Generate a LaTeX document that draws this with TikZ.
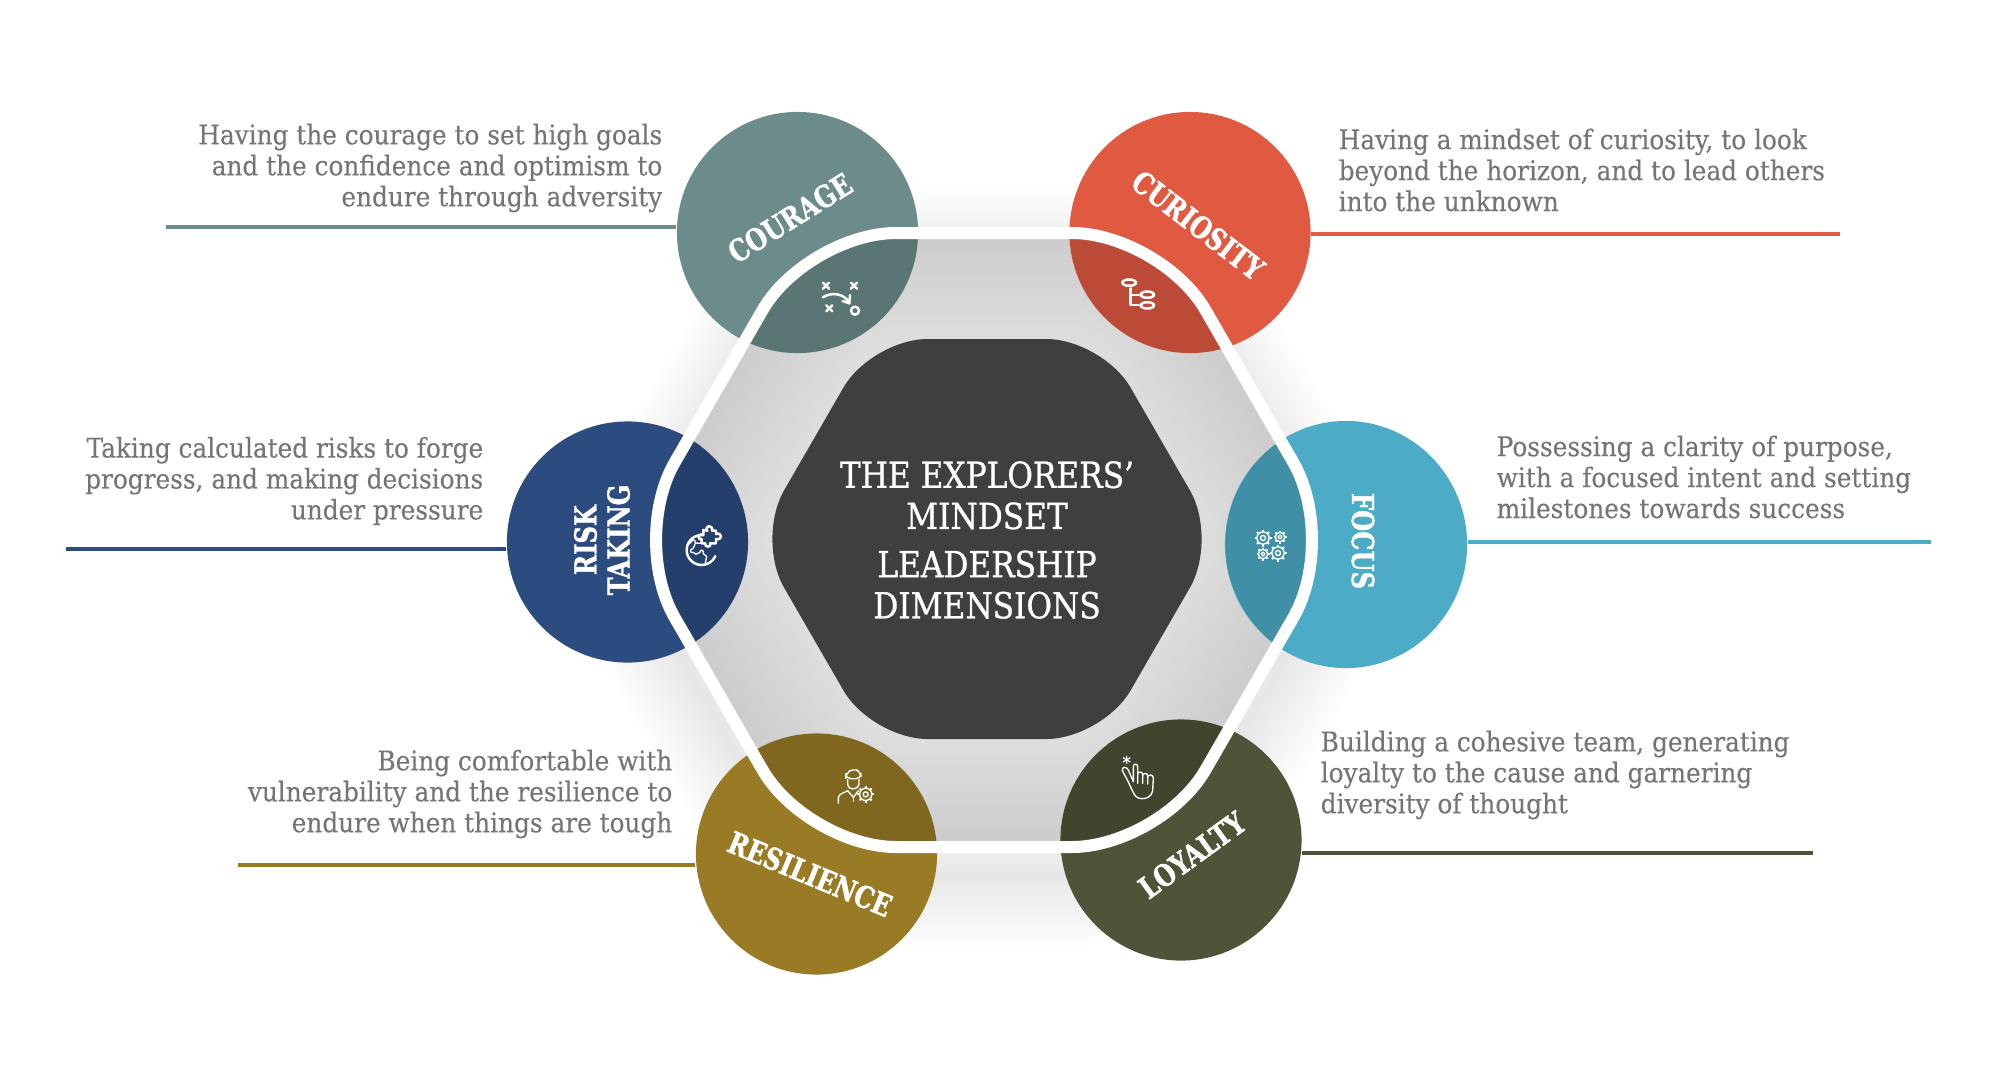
\documentclass[tikz,border=0pt]{standalone}
\usepackage{fontspec}
\usepackage{tikz}
\usetikzlibrary{shapes.geometric}

\newfontfamily\bodyfont[FakeStretch=0.915,FakeBold=0.25]{DejaVu Serif}
\newfontfamily\titlefont[FakeStretch=0.87,FakeBold=0.8]{DejaVu Serif}
\newfontfamily\labelfont[FakeStretch=0.8,FakeBold=1.2]{DejaVu Serif Bold}

\definecolor{couragecol}{HTML}{6B8C8B}
\definecolor{curiositycol}{HTML}{E05A42}
\definecolor{riskcol}{HTML}{2C4C80}
\definecolor{focuscol}{HTML}{4CABC6}
\definecolor{resiliencecol}{HTML}{997B25}
\definecolor{loyaltycol}{HTML}{4F5337}
\definecolor{bodygrey}{HTML}{757575}
\definecolor{coregrey}{HTML}{3F3F3F}
\definecolor{hexgrey}{HTML}{E0E0E0}

\def\outerhex{(984,233) -- (1161,233) -- (1338,540) -- (1161,847) -- (807,847) -- (630,540) -- (807,233) -- cycle}

\tikzset{
	dimcircle/.style={circle,minimum size=2.41cm,inner sep=0pt},
	dimlabel/.style={white,inner sep=0pt,align=center,font=\labelfont\fontsize{8.6}{9.4}\selectfont},
	bodyleft/.style={bodygrey,inner sep=0pt,anchor=west,align=left,font=\bodyfont\fontsize{7.7}{8.8}\selectfont},
	bodyright/.style={bodygrey,inner sep=0pt,anchor=east,align=right,font=\bodyfont\fontsize{7.7}{8.8}\selectfont},
	leader/.style={line width=0.04cm},
	iconline/.style={white,line width=0.38pt,line cap=round,line join=round},
	iconbold/.style={white,line width=0.7pt,line cap=round,line join=round},
	pics/gearicon/.style={code={
		\draw[iconline] (0,0) circle (#1*0.72);
		\draw[iconline] (0,0) circle (#1*0.3);
		\foreach \a in {0,45,...,315}
			\draw[iconline,line width=0.55pt,line cap=butt] (\a:#1*0.72) -- (\a:#1);
	}}
}

\begin{document}
\begin{tikzpicture}[x=0.01cm,y=-0.01cm]
	\useasboundingbox (0,0) rectangle (2000,1078);
	
	% soft shadow round the big hexagon
	\begin{scope}[yshift=-0.28cm,rounded corners=0.89cm]
		\foreach \w in {6,12,...,144}
			\draw[black,opacity=0.005,line width=\w*0.01cm] \outerhex;
	\end{scope}
	\fill[hexgrey,rounded corners=0.89cm] \outerhex;
	\begin{scope}
		\clip[rounded corners=0.89cm] \outerhex;
		\foreach \w in {12,24,...,240}
			\draw[black,opacity=0.0033,line width=\w*0.01cm,rounded corners=0.89cm] \outerhex;
	\end{scope}
	
	% leader lines
	\coordinate (courageend) at (166,227);
	\coordinate (curiosityend) at (1840,234);
	\coordinate (riskend) at (66,549);
	\coordinate (focusend) at (1931,542);
	\coordinate (resilienceend) at (238,865);
	\coordinate (loyaltyend) at (1813,853);
	
	% circles
	\node[dimcircle,fill=couragecol] (courage) at (797.5,232.5) {};
	\node[dimcircle,fill=curiositycol] (curiosity) at (1190,232.5) {};
	\node[dimcircle,fill=riskcol] (risk) at (627.5,542) {};
	\node[dimcircle,ellipse,fill=focuscol,minimum height=2.47cm,minimum width=2.42cm] (focus) at (1346,544.5) {};
	\node[dimcircle,fill=resiliencecol] (resilience) at (816.5,854) {};
	\node[dimcircle,fill=loyaltycol] (loyalty) at (1181,840) {};
	
	\draw[leader,couragecol] (courageend) -- (courageend -| courage.west);
	\draw[leader,curiositycol] (curiosityend) -- (curiosityend -| curiosity.east);
	\draw[leader,riskcol] (riskend) -- (riskend -| risk.west);
	\draw[leader,focuscol] (focusend) -- (focusend -| focus.east);
	\draw[leader,resiliencecol] (resilienceend) -- (resilienceend -| resilience.west);
	\draw[leader,loyaltycol] (loyaltyend) -- (loyaltyend -| loyalty.east);
	
	% darker part of each circle, inside the hexagon
	\begin{scope}
		\clip[rounded corners=0.89cm] \outerhex;
		\foreach \c/\r in {courage/120.5,curiosity/120.5,risk/120.5,focus/123.5,resilience/120.5,loyalty/120.5}
			\fill[black,opacity=0.16] (\c) ellipse (120.5 and \r);
	\end{scope}
	\draw[white,line width=0.12cm,rounded corners=0.89cm] \outerhex;
	
	% core
	\fill[coregrey,rounded corners=0.56cm] (987,339) -- (1102.5,339) -- (1218,539) -- (1102.5,739) -- (871.5,739) -- (756,539) -- (871.5,339) -- cycle;
	\node[white,inner sep=0pt,align=center,font=\titlefont\fontsize{10.2}{11.7}\selectfont] (coretext) at (987,540)
		{THE EXPLORERS’\\MINDSET\\[2pt]LEADERSHIP\\DIMENSIONS};
	
	% circle labels
	\node[dimlabel,rotate=32] (couragelabel) at (790,218) {COURAGE};
	\node[dimlabel,rotate=-37.5] (curiositylabel) at (1198,225) {CURIOSITY};
	\node[dimlabel,rotate=90] (risklabel) at (602,540) {RISK\\TAKING};
	\node[dimlabel,rotate=-90] (focuslabel) at (1363,541) {FOCUS};
	\node[dimlabel,rotate=-22.6] (resiliencelabel) at (810,874) {RESILIENCE};
	\node[dimlabel,rotate=36] (loyaltylabel) at (1192,855) {LOYALTY};
	
	% descriptions
	\node[bodyright] (couragetext) at (663,168) {Having the courage to set high goals\\and the confidence and optimism to\\endure through adversity};
	\node[bodyleft] (curiositytext) at (1338,170) {Having a mindset of curiosity, to look\\beyond the horizon, and to lead others\\into the unknown};
	\node[bodyright] (risktext) at (484,481) {Taking calculated risks to forge\\progress, and making decisions\\under pressure};
	\node[bodyleft] (focustext) at (1496,477) {Possessing a clarity of purpose,\\with a focused intent and setting\\milestones towards success};
	\node[bodyright] (resiliencetext) at (673,794) {Being comfortable with\\vulnerability and the resilience to\\endure when things are tough};
	\node[bodyleft] (loyaltytext) at (1320,775) {Building a cohesive team, generating\\loyalty to the cause and garnering\\diversity of thought};
	
	% icon: plan of play
	\begin{scope}[shift={(800,265)},scale=1/3]
		\foreach \p/\q in {78/62,162/62,88/130}
			\draw[iconbold] (\p-9,\q-9) -- (\p+9,\q+9) (\p-9,\q+9) -- (\p+9,\q-9);
		\draw[iconbold] (165,137) circle (12);
		\draw[iconbold] (68,97) .. controls (95,80) and (135,85) .. (148,115);
		\draw[iconbold] (128,108) -- (148,115) -- (150,90);
	\end{scope}
	
	% icon: flow
	\begin{scope}[shift={(1100,265)},scale=1/3]
		\draw[iconbold,rounded corners=0.04cm] (67,44) rectangle (108,62);
		\draw[iconbold,rounded corners=0.04cm] (122,80) rectangle (162,98);
		\draw[iconbold,rounded corners=0.04cm] (122,112) rectangle (162,130);
		\draw[iconbold] (92,70) -- (92,120) -- (115,120) (92,90) -- (115,90);
	\end{scope}
	
	% icon: puzzle globe
	\begin{scope}[shift={(670,515)},scale=1/3]
		\draw[iconbold] (95,105) ++(-84:45) arc (-84:-336:45);
		\draw[iconbold] (100,60) -- (100,45) -- (112,47) .. controls (102,30) and (130,28) .. (126,47) -- (138,47) -- (138,57) .. controls (158,50) and (158,78) .. (138,72) -- (138,85) -- (120,85) .. controls (128,98) and (100,98) .. (106,85) -- (95,85) -- (95,72) .. controls (82,78) and (82,52) .. (100,60);
		\draw[iconline] (50,92) -- (65,80) .. controls (62,72) and (78,72) .. (76,84) -- (95,85);
		\draw[iconline] (76,84) -- (70,100) .. controls (58,100) and (60,118) .. (70,112) -- (78,118) -- (90,112) .. controls (88,102) and (104,104) .. (100,116) -- (110,124) -- (105,148);
	\end{scope}
	
	% icon: gears
	\pic at (1263,538) {gearicon=8.5};
	\pic at (1280,537) {gearicon=6.5};
	\pic at (1263,554) {gearicon=6.5};
	\pic at (1278,553) {gearicon=8.5};
	
	% icon: engineer
	\begin{scope}[shift={(825,760)},scale=1/3]
		\draw[iconline,rounded corners=0.05cm] (62,56) -- (62,40) -- (85,26) -- (108,35) -- (108,56) -- cycle;
		\draw[iconline] (68,58) -- (68,72) .. controls (70,92) and (98,92) .. (102,72) -- (102,58);
		\draw[iconline] (40,130) -- (40,112) .. controls (42,100) and (60,98) .. (68,92) -- (85,112) -- (100,92);
		\draw[iconline] (85,112) -- (85,124);
		\pic at (122,103) {gearicon=8.5};
	\end{scope}
	
	% icon: pointing hand
	\begin{scope}[shift={(1105,750)},scale=1/3]
		\node[white,inner sep=0pt,font=\bodyfont\fontsize{5}{5}\selectfont] (handstar) at (65,37) {*};
		\draw[iconline] (68,92) -- (52,62) .. controls (50,50) and (64,48) .. (70,60) -- (85,95) -- (85,50) .. controls (85,40) and (98,40) .. (98,50) -- (98,100) -- (98,72) .. controls (100,64) and (113,64) .. (113,74) -- (113,100) -- (113,76) .. controls (116,68) and (128,68) .. (128,78) -- (128,102) -- (128,80) .. controls (132,72) and (145,74) .. (145,84) -- (143,122) .. controls (140,140) and (125,146) .. (110,146) .. controls (95,146) and (88,135) .. (82,122) -- (68,92);
	\end{scope}
\end{tikzpicture}
\end{document}
